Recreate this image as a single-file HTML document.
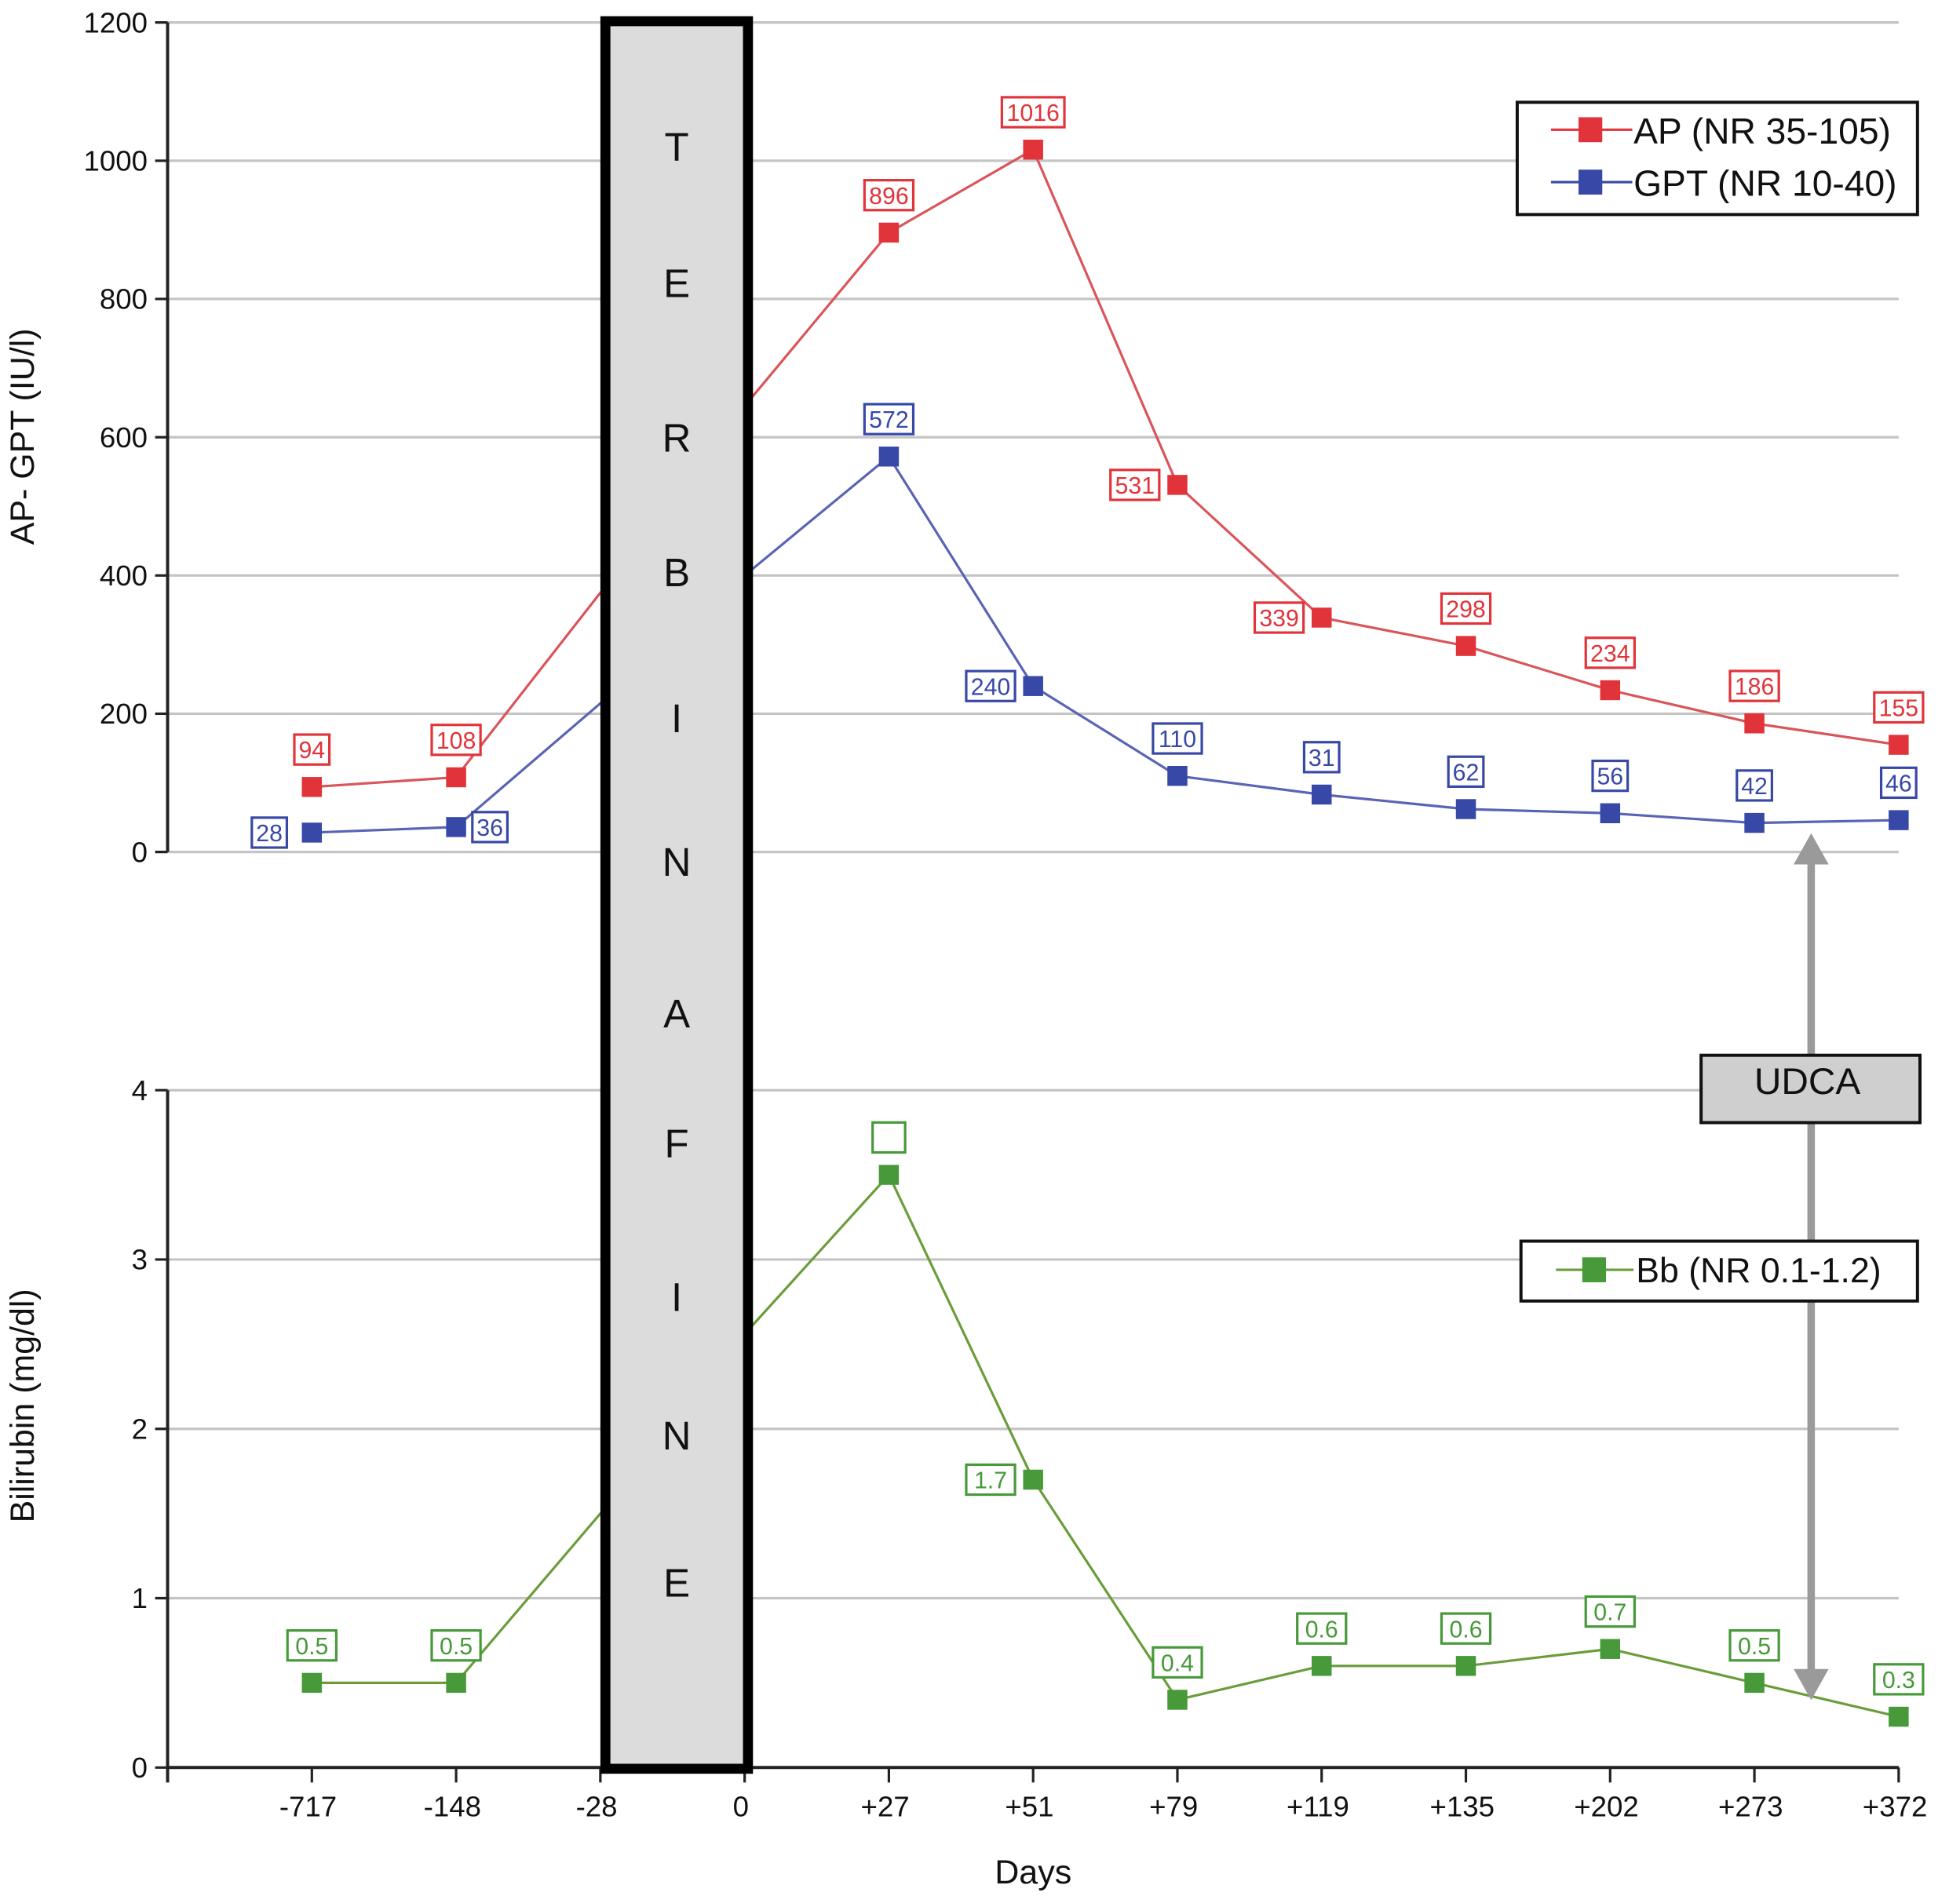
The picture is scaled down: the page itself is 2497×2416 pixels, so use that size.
<!DOCTYPE html>
<html><head><meta charset="utf-8"><style>
html,body{margin:0;padding:0;background:#fff;}
svg{display:block;font-family:"Liberation Sans",Arial,sans-serif;}
</style></head><body>
<svg id="chart" width="2497" height="2416" viewBox="0 0 1567 1520" preserveAspectRatio="none" xmlns="http://www.w3.org/2000/svg">
<g id="grid"></g>
<g id="axes"></g>
<g id="series"></g>
<g id="box"></g>
<g id="labels"></g>
<g id="extras"></g>
</svg>
<script>
const categories = ['-717','-148','-28','0','+27','+51','+79','+119','+135','+202','+273','+372'];
const apValues = [94,108,375,645,896,1016,531,339,298,234,186,155];
const apLabels = ['94','108',null,null,'896','1016','531','339','298','234','186','155'];
const gptValues = [28,36,215,400,572,240,110,83,62,56,42,46];
const gptLabels = ['28','36',null,null,'572','240','110','31','62','56','42','46'];
const bbValues = [0.5,0.5,1.5,2.56,3.5,1.7,0.4,0.6,0.6,0.7,0.5,0.3];
const bbLabels = ['0.5','0.5',null,null,'','1.7','0.4','0.6','0.6','0.7','0.5','0.3'];
const topTicks = [0,200,400,600,800,1000,1200];
const botTicks = [0,1,2,3,4];

const NS='http://www.w3.org/2000/svg';
const X0=134, STEP=115.33;
const xPos = i => X0 + STEP*(i+1);
const yTop = v => 683 - v*(665/1200);
const yBot = v => 1417 - v*(543/4);
function mk(tag, attrs, parent, text){
  const e=document.createElementNS(NS,tag);
  for(const k in attrs) e.setAttribute(k,attrs[k]);
  if(text!==undefined) e.textContent=text;
  document.getElementById(parent).appendChild(e); return e;
}
topTicks.forEach(t=>{
  const g=mk('line',{x1:X0,x2:1518,y1:yTop(t),y2:yTop(t),stroke:'#c4c4c4','stroke-width':2},'grid');
  
  
  mk('line',{x1:X0-10,x2:X0,y1:yTop(t),y2:yTop(t),stroke:'#222','stroke-width':2},'axes');
  const l=mk('text',{x:X0-16,y:yTop(t)+8,'text-anchor':'end','font-size':23,fill:'#111'},'axes',t);
  
  
});
botTicks.forEach(t=>{
  const g=mk('line',{x1:X0,x2:1518,y1:yBot(t),y2:yBot(t),stroke:'#c4c4c4','stroke-width':2},'grid');
  
  
  mk('line',{x1:X0-10,x2:X0,y1:yBot(t),y2:yBot(t),stroke:'#222','stroke-width':2},'axes');
  const l=mk('text',{x:X0-16,y:yBot(t)+8,'text-anchor':'end','font-size':23,fill:'#111'},'axes',t);
  
  
});
mk('line',{x1:X0,x2:X0,y1:18,y2:yTop(0),stroke:'#222','stroke-width':2.5},'axes');
mk('line',{x1:X0,x2:X0,y1:yBot(4),y2:yBot(0)+12,stroke:'#222','stroke-width':2.5},'axes');
mk('line',{x1:X0,x2:1518,y1:yBot(0),y2:yBot(0),stroke:'#222','stroke-width':2.5},'axes');
categories.forEach((c,i)=>{
  mk('line',{x1:xPos(i),x2:xPos(i),y1:yBot(0),y2:yBot(0)+12,stroke:'#222','stroke-width':2},'axes');
  const l=mk('text',{x:xPos(i)-3,y:1456,'text-anchor':'middle','font-size':23,fill:'#111'},'axes',c);
  
  
});
let t=mk('text',{x:826,y:1510,'text-anchor':'middle','font-size':27,fill:'#111'},'axes','Days');


t=mk('text',{x:27,y:350,'text-anchor':'middle','font-size':27,fill:'#111',transform:'rotate(-90 27 350)'},'axes','AP- GPT (IU/l)');


t=mk('text',{x:27,y:1127,'text-anchor':'middle','font-size':27,fill:'#111',transform:'rotate(-90 27 1127)'},'axes','Bilirubin (mg/dl)');



function series(vals, labels, yf, color, lineColor, name, labelPos){
  const pts=vals.map((v,i)=>xPos(i)+','+yf(v)).join(' ');
  const pl=mk('polyline',{points:pts,fill:'none',stroke:lineColor,'stroke-width':2},'series');
  
  
  vals.forEach((v,i)=>{
    if(labels[i]===null) return;
    const m=mk('rect',{x:xPos(i)-8,y:yf(v)-8,width:16,height:16,fill:color},'series');
    
    
    const pos=labelPos[i]||'above';
    let lx=xPos(i), ly=yf(v)-30;
    if(pos==='left'){lx=xPos(i)-34; ly=yf(v);}
    if(pos==='right'){lx=xPos(i)+27; ly=yf(v);}
    const w=Math.max(26,labels[i].length*11+6);
    mk('rect',{x:lx-w/2,y:ly-12,width:w,height:24,fill:'#fff',stroke:color,'stroke-width':2},'labels');
    const lt=mk('text',{x:lx,y:ly+7,'text-anchor':'middle','font-size':19,fill:color},'labels',labels[i]);
    
    
  });
}
series(apValues,apLabels,yTop,'#e0343a','#d9555a','ap',{6:'left',7:'left'});
series(gptValues,gptLabels,yTop,'#3848a6','#5a64b4','gpt',{0:'left',1:'right',5:'left'});
series(bbValues,bbLabels,yBot,'#47993a','#6a9d3a','bb',{5:'left'});

let b=mk('rect',{x:484,y:17,width:114,height:1401,fill:'#dcdcdc',stroke:'#000','stroke-width':8},'box');


const letters=['T','E','R','B','I','N','A','F','I','N','E'];
const ly=[117,226,350,458,575,690,812,916,1039,1150,1268];
letters.forEach((c,i)=>{
  const l=mk('text',{x:541,y:ly[i]+12,'text-anchor':'middle','font-size':32,fill:'#111'},'box',c);
  
  
});

mk('line',{x1:1448,x2:1448,y1:690,y2:1340,stroke:'#9a9a9a','stroke-width':6},'extras');
mk('polygon',{points:'1434,693 1448,668 1462,693',fill:'#9a9a9a'},'extras');
mk('polygon',{points:'1434,1338 1448,1363 1462,1338',fill:'#9a9a9a'},'extras');
b=mk('rect',{x:1360,y:846,width:175,height:54,fill:'#cfcfcf',stroke:'#111','stroke-width':2.5},'extras');


t=mk('text',{x:1445,y:877,'text-anchor':'middle','font-size':30,fill:'#111'},'extras','UDCA');



b=mk('rect',{x:1213,y:82,width:320,height:90,fill:'#fff',stroke:'#111','stroke-width':2.5},'extras');


[['#e0343a','AP (NR 35-105)',104],['#3848a6','GPT (NR 10-40)',146]].forEach(([c,txt,y])=>{
  mk('line',{x1:1240,x2:1305,y1:y,y2:y,stroke:c,'stroke-width':2},'extras');
  mk('rect',{x:1262,y:y-10,width:19,height:20,fill:c},'extras');
  const l=mk('text',{x:1306,y:y+11,'font-size':29,fill:'#111'},'extras',txt);
  
  
});
b=mk('rect',{x:1216,y:995,width:317,height:48,fill:'#fff',stroke:'#111','stroke-width':2.5},'extras');


mk('line',{x1:1244,x2:1306,y1:1018,y2:1018,stroke:'#6a9d3a','stroke-width':2},'extras');
mk('rect',{x:1265,y:1008,width:19,height:20,fill:'#47993a'},'extras');
t=mk('text',{x:1308,y:1028,'font-size':28,fill:'#111'},'extras','Bb (NR 0.1-1.2)');


</script>
</body></html>
